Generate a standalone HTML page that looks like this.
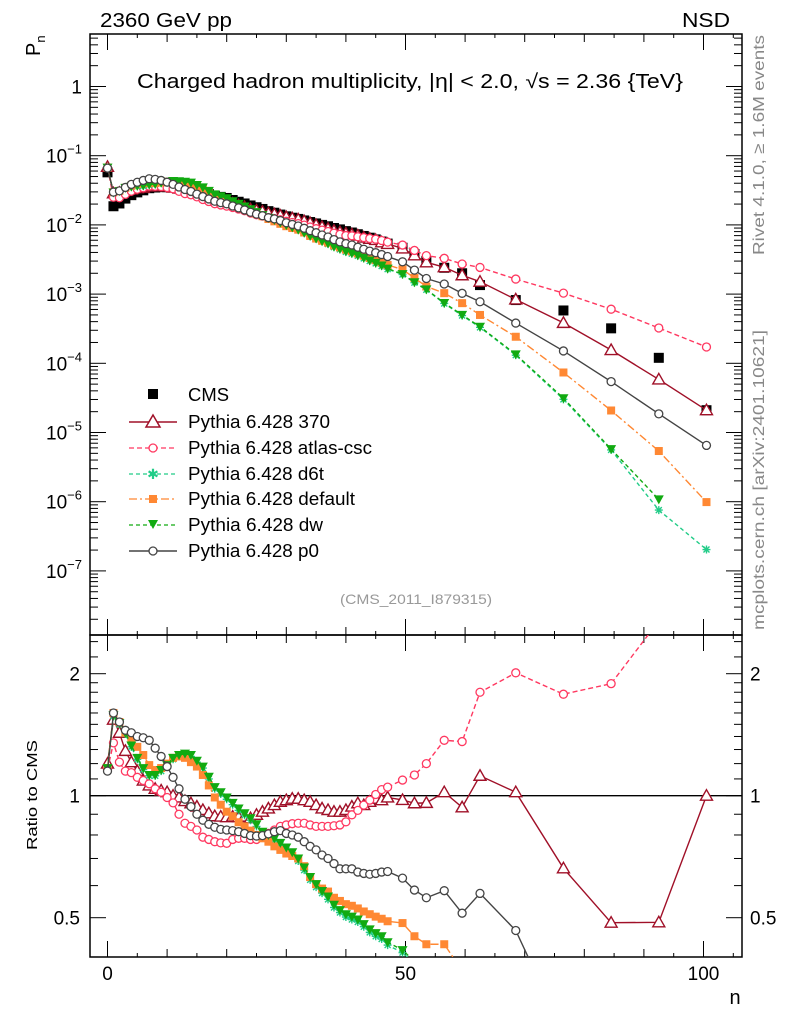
<!DOCTYPE html>
<html><head><meta charset="utf-8">
<style>
html,body{margin:0;padding:0;background:#fff;width:786px;height:1024px;overflow:hidden;}
svg{display:block;font-family:"Liberation Sans",Arial,sans-serif;}
</style></head>
<body>
<svg id="chart" width="786" height="1024" viewBox="0 0 786 1024" xmlns="http://www.w3.org/2000/svg">
<defs>
<clipPath id="clipMain"><rect x="90" y="34" width="652" height="601"/></clipPath>
<clipPath id="clipRatio"><rect x="90" y="635" width="652" height="322"/></clipPath>
</defs>
<rect x="0" y="0" width="786" height="1024" fill="#fff"/>
<text x="100" y="27" font-size="20" textLength="132" lengthAdjust="spacingAndGlyphs">2360 GeV pp</text>
<text x="682" y="27" font-size="20" textLength="48" lengthAdjust="spacingAndGlyphs">NSD</text>
<text transform="translate(40,56) rotate(-90)" font-size="20">P<tspan font-size="13" dy="5">n</tspan></text>
<text x="137" y="88" font-size="20" textLength="546" lengthAdjust="spacingAndGlyphs">Charged hadron multiplicity, |η| &lt; 2.0, √s = 2.36 {TeV}</text>
<text transform="translate(764,255) rotate(-90)" font-size="16" fill="#888" textLength="220" lengthAdjust="spacingAndGlyphs">Rivet 4.1.0, ≥ 1.6M events</text>
<text transform="translate(764,630) rotate(-90)" font-size="16" fill="#888" textLength="300" lengthAdjust="spacingAndGlyphs">mcplots.cern.ch [arXiv:2401.10621]</text>
<text x="340" y="604" font-size="14" fill="#999" textLength="152" lengthAdjust="spacingAndGlyphs">(CMS_2011_I879315)</text>
<text transform="translate(37,795) rotate(-90)" font-size="15" text-anchor="middle" textLength="110" lengthAdjust="spacingAndGlyphs">Ratio to CMS</text>
<text x="735" y="1004" font-size="20" text-anchor="middle">n</text>
<g id="axes"></g>
<g id="mainMarks" clip-path="url(#clipMain)"></g>
<g id="ratioMarks" clip-path="url(#clipRatio)"></g>
<g id="legend">
  <rect x="148" y="389" width="10" height="10" fill="#000"/>
  <text x="188" y="401" font-size="18" textLength="41" lengthAdjust="spacingAndGlyphs">CMS</text>
  <line x1="129" y1="422" x2="177" y2="422" stroke="#a01028" stroke-width="1.5"/>
  <polygon points="153,415 160,427 146,427" fill="#fff" stroke="#a01028" stroke-width="1.5"/>
  <text x="188" y="428" font-size="18" textLength="142" lengthAdjust="spacingAndGlyphs">Pythia 6.428 370</text>
  <line x1="129" y1="448" x2="177" y2="448" stroke="#ff3860" stroke-width="1.2" stroke-dasharray="5,3"/>
  <circle cx="153" cy="448" r="4" fill="#fff" stroke="#ff3860" stroke-width="1.3"/>
  <text x="188" y="454" font-size="18" textLength="184" lengthAdjust="spacingAndGlyphs">Pythia 6.428 atlas-csc</text>
  <line x1="129" y1="474" x2="177" y2="474" stroke="#22cc88" stroke-width="1.2" stroke-dasharray="4,3"/>
  <text x="153" y="479" font-size="14" fill="#22cc88" text-anchor="middle">✱</text>
  <text x="188" y="480" font-size="18" textLength="136" lengthAdjust="spacingAndGlyphs">Pythia 6.428 d6t</text>
  <line x1="129" y1="499" x2="177" y2="499" stroke="#ff8833" stroke-width="1.2" stroke-dasharray="8,3,2,3"/>
  <rect x="149" y="495" width="8" height="8" fill="#ff8833"/>
  <text x="188" y="505" font-size="18" textLength="167" lengthAdjust="spacingAndGlyphs">Pythia 6.428 default</text>
  <line x1="129" y1="525" x2="177" y2="525" stroke="#11aa11" stroke-width="1.2" stroke-dasharray="4,3"/>
  <polygon points="148,520 158,520 153,529" fill="#11aa11"/>
  <text x="188" y="531" font-size="18" textLength="135" lengthAdjust="spacingAndGlyphs">Pythia 6.428 dw</text>
  <line x1="129" y1="551" x2="177" y2="551" stroke="#444" stroke-width="1.5"/>
  <circle cx="153" cy="551" r="4" fill="#fff" stroke="#444" stroke-width="1.3"/>
  <text x="188" y="557" font-size="18" textLength="131" lengthAdjust="spacingAndGlyphs">Pythia 6.428 p0</text>
</g>
</svg>
<script>
// ---- data ----
const nBins = [0,1,2,3,4,5,6,7,8,9,10,11,12,13,14,15,16,17,18,19,20,21,22,23,24,25,26,27,28,29,30,31,32,33,34,35,36,37,38,39,40,41,42,43,44,45,46,47,49.5,51.5,53.5,56.5,59.5,62.5,68.5,76.5,84.5,92.5,100.5];
const cmsValues = [0.0575,0.0186,0.0204,0.0240,0.0269,0.0295,0.0316,0.0339,0.0347,0.0351,
0.0351,0.0347,0.0339,0.0331,0.0324,0.0309,0.0295,0.0279,0.0263,0.0254,
0.0245,0.0229,0.0216,0.0204,0.0191,0.0180,0.0170,0.0158,0.0150,0.0141,
0.0133,0.0127,0.0122,0.0116,0.0110,0.0105,0.0100,0.00955,0.00902,0.00861,
0.00813,0.00776,0.00733,0.00692,0.00653,0.00617,0.00575,0.00537,
0.00468,0.0038,0.0030,0.0024,0.0020,0.00135,0.00082,0.00058,0.00032,0.00012,0.000021];
const ratio370 = [1.20,1.54,1.43,1.29,1.21,1.15,1.09,1.06,1.04,1.03,
1.02,1.0,0.99,0.97,0.958,0.94,0.922,0.905,0.89,0.888,
0.885,0.888,0.885,0.888,0.88,0.897,0.913,0.93,0.948,0.966,
0.975,0.983,0.983,0.975,0.966,0.948,0.93,0.922,0.913,0.913,
0.922,0.94,0.958,0.948,0.966,0.983,0.975,0.99,
0.976,0.958,0.96,1.02,0.936,1.12,1.02,0.662,0.486,0.487,1.0];
const ratioAtlasCsc = [1.16,1.35,1.21,1.15,1.14,1.11,1.09,1.07,1.04,1.02,
0.99,0.96,0.90,0.855,0.84,0.823,0.79,0.78,0.77,0.765,
0.763,0.78,0.785,0.785,0.78,0.78,0.79,0.807,0.823,0.84,
0.847,0.853,0.855,0.855,0.847,0.84,0.84,0.84,0.843,0.847,
0.862,0.897,0.92,0.948,0.975,1.007,1.035,1.05,
1.093,1.125,1.20,1.37,1.36,1.80,2.01,1.78,1.89,2.7,8.2];
const ratioD6t = [1.16,1.57,1.50,1.42,1.32,1.23,1.16,1.12,1.12,1.15,
1.18,1.23,1.25,1.26,1.25,1.21,1.17,1.10,1.04,1.01,
0.98,0.95,0.92,0.895,0.87,0.84,0.805,0.79,0.775,0.755,
0.735,0.715,0.69,0.655,0.62,0.595,0.575,0.555,0.53,0.515,
0.502,0.495,0.488,0.475,0.46,0.45,0.443,0.428,
0.41,0.385,0.385,0.305,0.245,0.245,0.16,0.052,0.0175,0.0063,0.0097];
const ratioDefault = [1.17,1.60,1.52,1.43,1.37,1.32,1.26,1.19,1.157,1.17,
1.20,1.24,1.25,1.24,1.21,1.18,1.125,1.06,0.99,0.95,
0.913,0.89,0.86,0.84,0.82,0.80,0.785,0.77,0.75,0.735,
0.72,0.71,0.70,0.67,0.63,0.605,0.59,0.58,0.56,0.55,
0.54,0.535,0.527,0.518,0.51,0.503,0.497,0.49,
0.485,0.45,0.43,0.43,0.37,0.37,0.295,0.127,0.065,0.045,0.047];
const ratioDw = [1.17,1.58,1.51,1.43,1.33,1.24,1.17,1.125,1.125,1.157,
1.19,1.24,1.26,1.27,1.26,1.22,1.18,1.114,1.05,1.02,
0.99,0.96,0.93,0.905,0.88,0.85,0.815,0.80,0.785,0.765,
0.745,0.725,0.70,0.665,0.63,0.605,0.582,0.564,0.538,0.522,
0.51,0.503,0.495,0.482,0.468,0.458,0.45,0.435,
0.416,0.39,0.39,0.31,0.25,0.25,0.164,0.054,0.018,0.009,null];
const ratioP0 = [1.15,1.60,1.52,1.45,1.43,1.40,1.39,1.37,1.31,1.25,
1.18,1.11,1.04,0.98,0.94,0.90,0.87,0.85,0.836,0.826,
0.823,0.82,0.815,0.807,0.797,0.795,0.797,0.805,0.815,0.82,
0.807,0.80,0.79,0.77,0.75,0.735,0.714,0.70,0.68,0.66,
0.66,0.66,0.648,0.643,0.64,0.643,0.648,0.65,
0.626,0.585,0.56,0.583,0.513,0.574,0.465,0.26,0.17,0.155,0.31];
const xTickLabels = [0,50,100];
const mainDecades = [0,-1,-2,-3,-4,-5,-6,-7];
const ratioTickLabels = [0.5,1,2];

// ---- axis functions ----
const NS = 'http://www.w3.org/2000/svg';
function X(n){ return 107.5 + 5.96*n; }
function YM(v){ return 86.5 - 69.2*Math.log10(v); }
function YR(r){ return 795.7 - 122*Math.log2(r); }
function mk(tag, attrs, parent){
  const e = document.createElementNS(NS, tag);
  for (const k in attrs) e.setAttribute(k, attrs[k]);
  parent.appendChild(e);
  return e;
}
const axes = document.getElementById('axes');
const mainG = document.getElementById('mainMarks');
const ratioG = document.getElementById('ratioMarks');

let f1 = mk('rect',{x:90,y:34,width:652,height:601,fill:'none',stroke:'#000','stroke-width':1.5},axes);


let f2 = mk('rect',{x:90,y:635,width:652,height:322,fill:'none',stroke:'#000','stroke-width':1.5},axes);



for (let n=0; n<=105; n+=5){
  const len = (n%50===0)?16:(n%10===0?8:4);
  const x = X(n);
  [[635,-1],[34,1],[957,-1],[635,1]].forEach(([y,d])=>{
    mk('line',{x1:x,y1:y,x2:x,y2:y+d*len,stroke:'#000','stroke-width':1},axes);
  });
}
xTickLabels.forEach(v=>{
  const t = mk('text',{x:X(v),y:980,'font-size':19,'text-anchor':'middle'},axes);
  t.textContent = v;
  
  
});

for (let d=-8; d<=0; d++){
  for (let m=1; m<=9; m++){
    const v = m*Math.pow(10,d);
    const y = YM(v);
    if (y<34 || y>635) continue;
    const len = m===1?16:8;
    mk('line',{x1:90,y1:y,x2:90+len,y2:y,stroke:'#000','stroke-width':1},axes);
    mk('line',{x1:742,y1:y,x2:742-len,y2:y,stroke:'#000','stroke-width':1},axes);
  }
}
mainDecades.forEach(d=>{
  const y = YM(Math.pow(10,d));
  const t = mk('text',{x:82,y:y+7,'font-size':19,'text-anchor':'end'},axes);
  if (d===0){ t.textContent='1'; }
  else {
    t.textContent='10';
    const s = mk('tspan',{dy:-9,'font-size':13},t);
    s.textContent = '−'+(-d);
  }
  
  
});
const rt = [0.4,0.5,0.6,0.7,0.8,0.9,1,1.1,1.2,1.3,1.4,1.5,1.6,1.7,1.8,1.9,2,2.2,2.4];
rt.forEach(r=>{
  const y = YR(r);
  if (y<635||y>957) return;
  const len = (r===0.5||r===1||r===2)?16:8;
  mk('line',{x1:90,y1:y,x2:90+len,y2:y,stroke:'#000','stroke-width':1},axes);
  mk('line',{x1:742,y1:y,x2:742-len,y2:y,stroke:'#000','stroke-width':1},axes);
});
ratioTickLabels.forEach(r=>{
  const y = YR(r);
  const t1 = mk('text',{x:80,y:y+7,'font-size':19,'text-anchor':'end'},axes);
  t1.textContent = r;
  
  
  const t2 = mk('text',{x:750,y:y+7,'font-size':19},axes);
  t2.textContent = r;
  
  
});
const ul = mk('line',{x1:90,y1:YR(1),x2:742,y2:YR(1),stroke:'#000','stroke-width':1.3},ratioG);



function marker(kind, color, x, y, g){
  let e;
  if (kind==='tri') e = mk('polygon',{points:`${x},${y-6} ${x+6},${y+4.5} ${x-6},${y+4.5}`,fill:'#fff',stroke:color,'stroke-width':1.4},g);
  else if (kind==='circ') e = mk('circle',{cx:x,cy:y,r:4,fill:'#fff',stroke:color,'stroke-width':1.3},g);
  else if (kind==='sq') e = mk('rect',{x:x-4,y:y-4,width:8,height:8,fill:color},g);
  else if (kind==='cms') e = mk('rect',{x:x-5,y:y-5,width:10,height:10,fill:color},g);
  else if (kind==='dtri') e = mk('polygon',{points:`${x-5},${y-4} ${x+5},${y-4} ${x},${y+5}`,fill:color},g);
  else {
    e = mk('path',{d:`M${x-4},${y}H${x+4}M${x},${y-4}V${y+4}M${x-3},${y-3}L${x+3},${y+3}M${x-3},${y+3}L${x+3},${y-3}`,stroke:color,'stroke-width':1.4,fill:'none'},g);
  }
  return e;
}

const models = [
  {name:'pythia-370', ratios:ratio370, color:'#a01028', dash:'', kind:'tri'},
  {name:'pythia-atlas-csc', ratios:ratioAtlasCsc, color:'#ff3860', dash:'5,3', kind:'circ'},
  {name:'pythia-d6t', ratios:ratioD6t, color:'#22cc88', dash:'4,3', kind:'star'},
  {name:'pythia-default', ratios:ratioDefault, color:'#ff8833', dash:'8,3,2,3', kind:'sq'},
  {name:'pythia-dw', ratios:ratioDw, color:'#11aa11', dash:'4,3', kind:'dtri'},
  {name:'pythia-p0', ratios:ratioP0, color:'#444444', dash:'', kind:'circ'}
];

nBins.forEach((n,i)=>{
  const m = marker('cms','#000',X(n),YM(cmsValues[i]),mainG);
  
  
});

models.forEach(md=>{
  const gm = mk('g',{},mainG);
  
  
  const gr = mk('g',{},ratioG);
  
  
  let pm=[], pr=[];
  nBins.forEach((n,i)=>{
    const r = md.ratios[i];
    if (r===null||r===undefined) return;
    pm.push([X(n),YM(cmsValues[i]*r)]);
    pr.push([X(n),YR(r)]);
  });
  const attrs = {fill:'none',stroke:md.color,'stroke-width':1.4};
  if (md.dash) attrs['stroke-dasharray']=md.dash;
  const l1 = mk('polyline',Object.assign({points:pm.map(p=>p.join(',')).join(' ')},attrs),gm);
  
  
  const l2 = mk('polyline',Object.assign({points:pr.map(p=>p.join(',')).join(' ')},attrs),gr);
  
  
  pm.forEach(p=>{
    const e = marker(md.kind,md.color,p[0],p[1],gm);
    
    
  });
  pr.forEach(p=>{
    const e = marker(md.kind,md.color,p[0],p[1],gr);
    
    
  });
});
</script>
</body></html>
